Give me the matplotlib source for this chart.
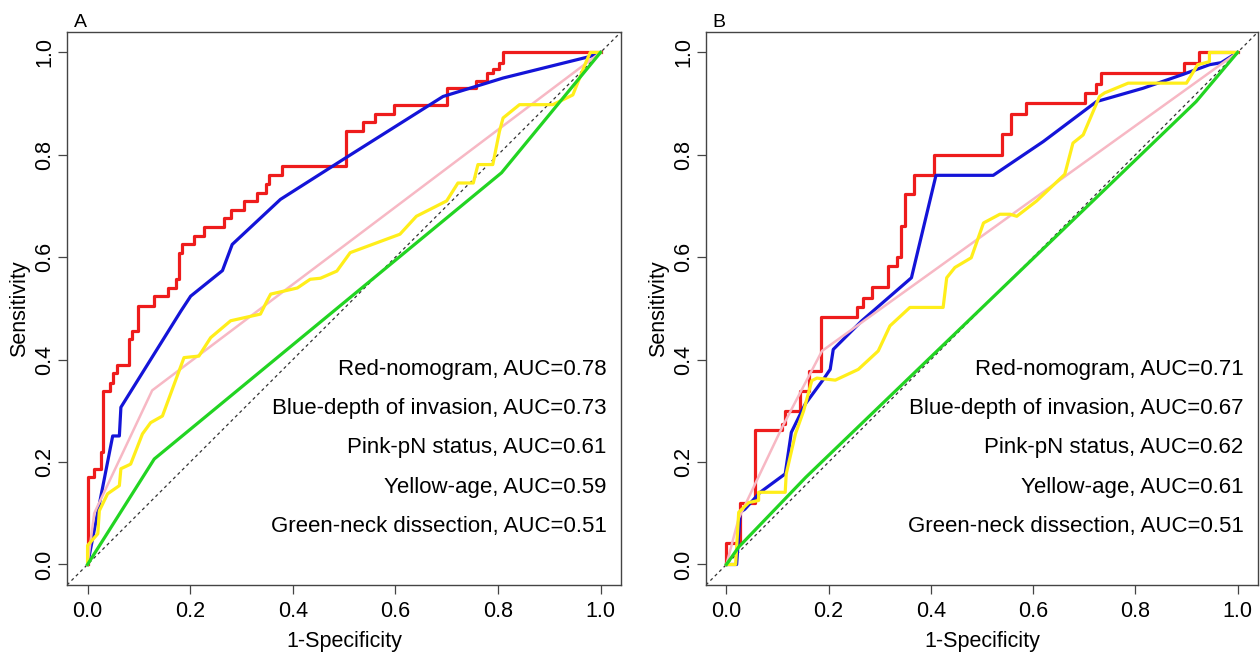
#!/usr/bin/env python3
"""
ROC curves for nomogram vs single predictors (panels A and B)
"""

import matplotlib
matplotlib.use("Agg")
import matplotlib.pyplot as plt

plt.rcParams['font.family'] = ['Liberation Sans', 'DejaVu Sans']

# ---- Panel A data (1-specificity, sensitivity) ----
a_red_x = [0, 0, 0.013, 0.026, 0.031, 0.044, 0.049, 0.057, 0.081, 0.086, 0.099,
           0.130, 0.156, 0.172, 0.178, 0.185, 0.207, 0.227, 0.266, 0.279, 0.305,
           0.331, 0.347, 0.353, 0.379, 0.503, 0.536, 0.560, 0.598, 0.700, 0.758,
           0.778, 0.790, 0.802, 0.810, 1.0]
a_red_y = [0, 0.17, 0.187, 0.219, 0.339, 0.355, 0.373, 0.39, 0.44, 0.456, 0.505,
           0.524, 0.54, 0.557, 0.609, 0.625, 0.641, 0.659, 0.677, 0.692, 0.71,
           0.726, 0.743, 0.76, 0.778, 0.846, 0.864, 0.88, 0.898, 0.93, 0.945,
           0.96, 0.967, 0.979, 1.0, 1.0]
a_blue_x = [0, 0.049, 0.062, 0.065, 0.182, 0.201, 0.263, 0.282, 0.376, 0.503,
            0.693, 0.81, 0.979, 1.0]
a_blue_y = [0, 0.251, 0.251, 0.307, 0.495, 0.524, 0.574, 0.625, 0.713, 0.794,
            0.914, 0.95, 0.992, 1.0]
a_pink_x = [0, 0.013, 0.126, 1.0]
a_pink_y = [0, 0.10, 0.34, 1.0]
a_yellow_x = [0, 0, 0.02, 0.023, 0.039, 0.062, 0.065, 0.084, 0.107, 0.123,
              0.146, 0.188, 0.217, 0.24, 0.279, 0.337, 0.35, 0.357, 0.409, 0.434,
              0.454, 0.486, 0.512, 0.609, 0.641, 0.70, 0.722, 0.752, 0.761, 0.79,
              0.803, 0.81, 0.842, 0.907, 0.946, 0.972, 0.98, 1.0]
a_yellow_y = [0, 0.037, 0.06, 0.105, 0.138, 0.154, 0.187, 0.196, 0.255, 0.277,
              0.29, 0.404, 0.407, 0.443, 0.476, 0.489, 0.515, 0.528, 0.54, 0.557,
              0.559, 0.573, 0.609, 0.645, 0.68, 0.71, 0.745, 0.745, 0.781, 0.781,
              0.846, 0.872, 0.898, 0.898, 0.917, 0.982, 1.0, 1.0]
a_green_x = [0, 0.13, 0.807, 1.0]
a_green_y = [0, 0.206, 0.765, 1.0]
a_labels = ['Red-nomogram, AUC=0.78', 'Blue-depth of invasion, AUC=0.73',
            'Pink-pN status, AUC=0.61', 'Yellow-age, AUC=0.59',
            'Green-neck dissection, AUC=0.51']

# ---- Panel B data ----
b_red_x = [0, 0, 0.027, 0.055, 0.109, 0.115, 0.144, 0.161, 0.185, 0.255, 0.268,
           0.284, 0.317, 0.333, 0.341, 0.349, 0.367, 0.406, 0.54, 0.557, 0.587,
           0.701, 0.723, 0.732, 0.896, 0.924, 1.0]
b_red_y = [0, 0.042, 0.121, 0.263, 0.274, 0.30, 0.339, 0.378, 0.483, 0.502, 0.521,
           0.542, 0.583, 0.60, 0.661, 0.723, 0.76, 0.80, 0.841, 0.88, 0.901,
           0.921, 0.939, 0.96, 0.979, 1.0, 1.0]
b_blue_x = [0, 0.02, 0.027, 0.036, 0.066, 0.115, 0.127, 0.154, 0.19, 0.203, 0.209,
            0.265, 0.362, 0.41, 0.522, 0.62, 0.724, 0.815, 0.893, 0.945, 0.968, 1.0]
b_blue_y = [0, 0.0, 0.102, 0.108, 0.141, 0.177, 0.258, 0.313, 0.362, 0.381, 0.42,
            0.476, 0.56, 0.76, 0.76, 0.826, 0.904, 0.93, 0.957, 0.976, 0.98, 1.0]
b_pink_x = [0, 0.024, 0.109, 0.187, 1.0]
b_pink_y = [0, 0.09, 0.268, 0.417, 1.0]
b_yellow_x = [0, 0.018, 0.024, 0.044, 0.063, 0.063, 0.115, 0.117, 0.135, 0.151,
              0.167, 0.177, 0.213, 0.258, 0.297, 0.32, 0.359, 0.424, 0.431, 0.447,
              0.479, 0.503, 0.535, 0.555, 0.568, 0.607, 0.662, 0.678, 0.698, 0.73,
              0.74, 0.786, 0.9, 0.922, 0.945, 0.945, 1.0]
b_yellow_y = [0, 0, 0.102, 0.121, 0.125, 0.141, 0.141, 0.177, 0.255, 0.30,
              0.359, 0.364, 0.36, 0.381, 0.417, 0.466, 0.502, 0.502, 0.56, 0.58,
              0.599, 0.667, 0.684, 0.684, 0.68, 0.71, 0.762, 0.823, 0.839, 0.914,
              0.921, 0.94, 0.94, 0.976, 0.982, 1.0, 1.0]
b_green_x = [0, 0.024, 0.155, 0.919, 1.0]
b_green_y = [0, 0.034, 0.17, 0.904, 1.0]
b_labels = ['Red-nomogram, AUC=0.71', 'Blue-depth of invasion, AUC=0.67',
            'Pink-pN status, AUC=0.62', 'Yellow-age, AUC=0.61',
            'Green-neck dissection, AUC=0.51']

ticks = [0.0, 0.2, 0.4, 0.6, 0.8, 1.0]
tick_labels = ['0.0', '0.2', '0.4', '0.6', '0.8', '1.0']

RED = '#ee1c1c'
BLUE = '#1414d8'
PINK = '#f7b8c4'
YELLOW = '#ffee1a'
GREEN = '#22d422'
SPINE = '#444444'


def draw_panel(ax, red, blue, pink, yellow, green, labels, letter):
    """Draw one ROC panel in base-R style"""
    ax.axline((0, 0), (1, 1), color='#333333', linestyle=(0, (2.5, 2.5)),
              linewidth=0.9, zorder=1)
    ax.plot(red[0], red[1], drawstyle='steps-post', color=RED, linewidth=2.3, zorder=2)
    ax.plot(blue[0], blue[1], color=BLUE, linewidth=2.3, zorder=3)
    ax.plot(pink[0], pink[1], color=PINK, linewidth=1.8, zorder=4)
    ax.plot(yellow[0], yellow[1], color=YELLOW, linewidth=2.3, zorder=5)
    ax.plot(green[0], green[1], color=GREEN, linewidth=2.3, zorder=6)

    ax.set_xlim(-0.04, 1.04)
    ax.set_ylim(-0.04, 1.04)
    ax.set_xticks(ticks)
    ax.set_xticklabels(tick_labels)
    ax.set_yticks(ticks)
    ax.set_yticklabels(tick_labels, rotation=90, va='center')
    ax.tick_params(direction='out', length=6.5, width=0.9, color=SPINE,
                   labelsize=15.5)
    ax.tick_params(axis='x', pad=5)
    ax.tick_params(axis='y', pad=2)
    for s in ax.spines.values():
        s.set_color(SPINE)
        s.set_linewidth(1.0)

    ax.set_xlabel('1-Specificity', fontsize=15.5)
    ax.set_ylabel('Sensitivity', fontsize=15.5)
    ax.xaxis.set_label_coords(0.5, -0.083)
    ax.yaxis.label.set_va('center')
    ax.yaxis.set_label_coords(-0.085, 0.5)

    # AUC annotations, right aligned
    for i, lab in enumerate(labels):
        ax.text(1.012, 0.370 - i * 0.0765, lab, ha='right', va='baseline',
                fontsize=16, zorder=7)

    ax.text(0.012, 1.009, letter, transform=ax.transAxes, ha='left',
            va='baseline', fontsize=14)


def main():
    fig = plt.figure(figsize=(12.6, 6.52), dpi=100)
    ax_a = fig.add_axes([0.0532, 0.1028, 0.4397, 0.8482])
    ax_b = fig.add_axes([0.5603, 0.1028, 0.4381, 0.8482])

    draw_panel(ax_a, (a_red_x, a_red_y), (a_blue_x, a_blue_y),
               (a_pink_x, a_pink_y), (a_yellow_x, a_yellow_y),
               (a_green_x, a_green_y), a_labels, 'A')
    draw_panel(ax_b, (b_red_x, b_red_y), (b_blue_x, b_blue_y),
               (b_pink_x, b_pink_y), (b_yellow_x, b_yellow_y),
               (b_green_x, b_green_y), b_labels, 'B')

    fig.savefig('out.png', dpi=100)
    plt.close(fig)


if __name__ == "__main__":
    main()
